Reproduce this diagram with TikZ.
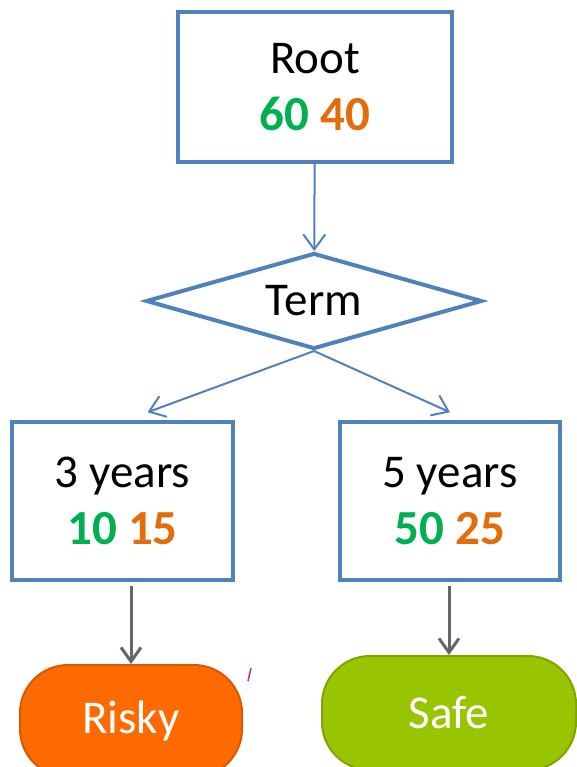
\documentclass[tikz,border=0pt]{standalone}
\usepackage{fontspec}
\setmainfont{Carlito}
\usetikzlibrary{positioning, arrows.meta, shapes.geometric}

\definecolor{boxblue}{HTML}{4F81BD}
\definecolor{numgreen}{HTML}{00B050}
\definecolor{numorange}{HTML}{E46C0A}
\definecolor{riskyfill}{HTML}{FF6A00}
\definecolor{riskyline}{HTML}{D95800}
\definecolor{safefill}{HTML}{99C400}
\definecolor{safeline}{HTML}{7FA600}

\newcommand{\counts}[2]{{\fontsize{49}{57}\selectfont\textbf{\textcolor{numgreen}{#1} \textcolor{numorange}{#2}}}}

\begin{document}
\begin{tikzpicture}[
    x=1pt, y=-1pt,
    box/.style={rectangle, draw=boxblue, line width=3.5pt, align=center, inner sep=0pt, font=\fontsize{47}{57}\selectfont},
    decision/.style={diamond, aspect=3.45, draw=boxblue, line width=4pt, inner sep=0pt, minimum width=336pt, minimum height=96pt, font=\fontsize{47}{57}\selectfont},
    leaf/.style={rectangle, rounded corners=48pt, line width=2pt, text=white, font=\fontsize{47}{55}\selectfont},
    arrow/.style={-{Straight Barb[length=15pt, width=22pt, line width=2pt]}, draw=boxblue, line width=2pt},
    leafarrow/.style={-{Straight Barb[length=14pt, width=20pt, line width=3pt]}, draw=gray!80!black, line width=3pt}
]
\useasboundingbox (0,0) rectangle (577,767);
\clip (0,0) rectangle (577,767);

% Root and split
\node[box, minimum width=274pt, minimum height=150pt] (root) at (315, 87) {Root\\\counts{60}{40}};
\node[decision] (term) at (314, 301) {Term};

% Branches
\node[box, minimum width=221pt, minimum height=158pt] (yrs3) at (122.5, 501) {3 years\\\counts{10}{15}};
\node[box, minimum width=220pt, minimum height=158pt] (yrs5) at (450, 501) {5 years\\\counts{50}{25}};

% Outcomes
\node[leaf, fill=riskyfill, draw=riskyline, minimum width=222pt, minimum height=112pt] (risky) at (131, 721) {Risky};
\node[leaf, fill=safefill, draw=safeline, minimum width=254pt, minimum height=114pt] (safe) at (449, 713) {Safe};

% Arrows
\draw[arrow] (root) -- (term);
\draw[arrow] (term.south) -- ([xshift=25pt, yshift=8pt]yrs3.north);
\draw[arrow] (term.south) -- ([yshift=8pt]yrs5.north);
\draw[leafarrow] ([yshift=-4pt]risky.north |- yrs3.south) -- (risky.north);
\draw[leafarrow] ([yshift=-4pt]safe.north |- yrs5.south) -- (safe.north);

% small mark
\draw[magenta!80!black, line width=1.5pt] (251, 668) -- (248, 681);

\end{tikzpicture}
\end{document}
